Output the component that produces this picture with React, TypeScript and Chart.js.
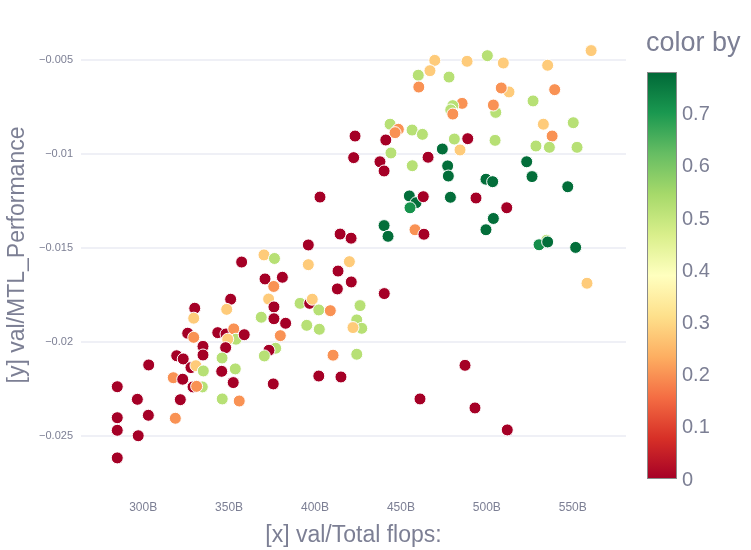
import React, { useEffect, useRef } from "react";
import { Chart, registerables } from "chart.js";

Chart.register(...registerables);

// ---------- data ----------
const xFlops: number[] = [
  534.8,
  284.9, 296.6, 303.0, 284.9, 284.9, 297.1, 284.9, 303.2, 319.5, 323.3,
  327.8, 330.7, 335.0, 317.5, 323.0, 329.0, 334.4, 331.1, 321.6, 318.7,
  330.0, 329.4, 325.9, 329.4, 334.8, 334.8, 350.9, 348.6, 343.4, 348.2,
  352.7, 354.0, 349.2, 358.8, 348.0, 345.9, 353.6, 345.7, 352.4, 346.0,
  355.9, 357.3, 370.3, 376.4, 370.9, 381.0, 376.0, 373.0, 376.1, 376.1,
  382.9, 368.7, 379.8, 377.1, 373.2, 370.5, 375.7, 391.3, 396.9, 398.4,
  402.2, 408.9, 395.2, 402.5, 426.2, 424.3, 427.2, 422.1, 410.5, 424.3,
  402.2, 415.1, 396.1, 420.0, 413.4, 413.0, 421.1, 396.1, 414.6, 421.0,
  402.9, 422.5, 423.3,
  560.7, 469.7, 466.9, 460.1, 460.4, 478.0, 488.5, 500.3, 509.6, 535.4,
  512.9, 508.4, 539.5, 526.9, 485.6, 480.2, 479.0, 480.2, 505.2, 503.8,
  550.3, 532.9, 538.0, 528.6, 536.4, 552.5, 443.7, 448.5, 446.6, 456.5,
  462.5, 441.2, 481.1, 488.9, 504.8, 484.4, 474.1, 444.2, 437.8, 440.2,
  456.6, 465.8, 477.2, 477.6, 499.5, 503.4, 523.2, 526.3, 547.1, 454.9,
  458.8, 455.3, 463.0, 478.8, 493.7, 511.6, 503.8, 499.5, 440.2, 442.5,
  458.2, 463.4, 530.4, 535.4, 551.7, 558.3, 440.3, 487.3, 461.1, 493.1,
  511.9,
];

const yPerf: number[] = [
  -0.0146,
  -0.0224, -0.02307, -0.02392, -0.02405, -0.02472, -0.02501, -0.02619, -0.02124, -0.02075, -0.02092,
  -0.02138, -0.02128, -0.02156, -0.02192, -0.022, -0.02241, -0.02241, -0.02238, -0.02309, -0.02408,
  -0.01822, -0.01875, -0.01955, -0.01977, -0.02025, -0.02071, -0.01774, -0.01828, -0.01952, -0.01959,
  -0.01932, -0.01987, -0.01987, -0.01963, -0.02032, -0.02087, -0.02145, -0.02158, -0.02218, -0.02305,
  -0.02316, -0.01576, -0.01538, -0.01557, -0.01666, -0.01657, -0.01706, -0.01773, -0.01815, -0.01878,
  -0.01902, -0.0187, -0.01968, -0.02035, -0.02046, -0.02076, -0.02225, -0.01796, -0.01796, -0.01774,
  -0.01831, -0.01835, -0.01913, -0.01934, -0.01808, -0.01884, -0.01929, -0.01925, -0.02072, -0.02067,
  -0.02183, -0.02188, -0.0159, -0.01574, -0.01624, -0.01719, -0.01682, -0.01485, -0.01427, -0.01449,
  -0.0123, -0.0102, -0.00905,
  -0.0045, -0.00502, -0.00557, -0.00581, -0.00644, -0.00591, -0.00507, -0.00477, -0.00516, -0.00528,
  -0.0067, -0.00649, -0.00658, -0.00718, -0.00731, -0.00743, -0.00766, -0.00788, -0.00779, -0.0074,
  -0.00834, -0.00842, -0.00905, -0.00958, -0.00965, -0.00965, -0.00842, -0.00869, -0.00887, -0.00873,
  -0.00896, -0.00926, -0.00921, -0.00919, -0.00928, -0.00979, -0.00974, -0.00995, -0.01042, -0.01091,
  -0.01063, -0.01018, -0.01064, -0.01118, -0.01135, -0.01148, -0.01042, -0.01121, -0.01175, -0.01224,
  -0.0126, -0.01287, -0.01228, -0.01231, -0.01235, -0.01287, -0.01344, -0.01404, -0.01382, -0.01439,
  -0.01404, -0.01428, -0.01484, -0.01469, -0.01498, -0.01689, -0.01744, -0.02126, -0.02305, -0.02353,
  -0.0247,
];

const colorBy: number[] = [
  0.52,
  0, 0, 0, 0, 0, 0, 0, 0, 0, 0,
  0, 0.28, 0.52, 0.2, 0, 0, 0.52, 0.2, 0, 0.2,
  0, 0.28, 0, 0.2, 0, 0, 0, 0.28, 0, 0,
  0.2, 0.52, 0.28, 0, 0, 0.52, 0.52, 0, 0, 0.52,
  0.2, 0, 0.28, 0.52, 0, 0, 0.2, 0.28, 0, 0,
  0, 0.52, 0.2, 0.52, 0, 0.52, 0, 0.52, 0, 0.28,
  0.52, 0.2, 0.52, 0.52, 0.52, 0.52, 0.52, 0.28, 0.2, 0.52,
  0, 0, 0.28, 0.28, 0, 0, 0, 0, 0, 0,
  0, 0, 0,
  0.28, 0.28, 0.28, 0.52, 0.2, 0.52, 0.28, 0.52, 0.28, 0.28,
  0.28, 0.2, 0.2, 0.52, 0.2, 0.52, 0.52, 0.2, 0.52, 0.2,
  0.52, 0.28, 0.2, 0.52, 0.52, 0.52, 0.52, 0.2, 0.2, 0.52,
  0.52, 0, 0.52, 0, 0.52, 0.28, 0.77, 0.52, 0, 0,
  0.52, 0, 0.77, 0.77, 0.77, 0.77, 0.77, 0.77, 0.77, 0.77,
  0.77, 0.71, 0, 0.77, 0, 0, 0.77, 0.77, 0.77, 0.77,
  0.2, 0, 0.72, 0.77, 0.77, 0.28, 0, 0, 0, 0,
  0,
];

const xTicks: number[] = [300, 350, 400, 450, 500, 550];
const yTicks: number[] = [-0.025, -0.02, -0.015, -0.01, -0.005];
const cbTicks: number[] = [0, 0.1, 0.2, 0.3, 0.4, 0.5, 0.6, 0.7];
const cMin = 0;
const cMax = 0.78;

// RdYlGn colorscale
const scalePos: number[] = [0, 0.1, 0.2, 0.3, 0.4, 0.5, 0.6, 0.7, 0.8, 0.9, 1];
const scaleRGB: number[][] = [
  [165, 0, 38], [215, 48, 39], [244, 109, 67], [253, 174, 97], [254, 224, 139],
  [255, 255, 191], [217, 239, 139], [166, 217, 106], [102, 189, 99], [26, 152, 80], [0, 104, 55],
];

function colorAt(t: number): string {
  const tt = Math.max(0, Math.min(1, t));
  for (let i = 0; i < scalePos.length - 1; i++) {
    if (tt <= scalePos[i + 1]) {
      const f = (tt - scalePos[i]) / (scalePos[i + 1] - scalePos[i]);
      const a = scaleRGB[i], b = scaleRGB[i + 1];
      const c = a.map((v, k) => Math.round(v + (b[k] - v) * f));
      return `rgb(${c[0]},${c[1]},${c[2]})`;
    }
  }
  const l = scaleRGB[scaleRGB.length - 1];
  return `rgb(${l[0]},${l[1]},${l[2]})`;
}

const FONT = "'Liberation Sans', Arial, Helvetica, sans-serif";
const TEXT = "#7c7f94";

const colorbarPlugin = {
  id: "colorbar",
  afterDraw(chart: any) {
    const ctx: CanvasRenderingContext2D = chart.ctx;
    const left = 647, width = 30, top = 72, bottom = 479;
    const h = bottom - top;
    ctx.save();
    const g = ctx.createLinearGradient(0, bottom, 0, top);
    scalePos.forEach((p, i) => {
      const c = scaleRGB[i];
      g.addColorStop(p, `rgb(${c[0]},${c[1]},${c[2]})`);
    });
    ctx.fillStyle = g;
    ctx.fillRect(left, top, width, h);
    ctx.strokeStyle = "#8a8a8a";
    ctx.lineWidth = 1;
    ctx.strokeRect(left + 0.5, top + 0.5, width - 1, h - 1);
    ctx.fillStyle = TEXT;
    ctx.font = `20px ${FONT}`;
    ctx.textAlign = "left";
    ctx.textBaseline = "middle";
    cbTicks.forEach((v) => {
      const y = bottom - ((v - cMin) / (cMax - cMin)) * h;
      ctx.fillText(String(v), 682, y + 1);
    });
    ctx.font = `27px ${FONT}`;
    ctx.textBaseline = "middle";
    ctx.fillText("color by", 646, 44);
    ctx.restore();
  },
};

export default function App() {
  const ref = useRef<HTMLCanvasElement | null>(null);

  useEffect(() => {
    document.body.style.margin = "0";
    if (!ref.current) return;
    const points = xFlops.map((x, i) => ({ x, y: yPerf[i] }));
    const colors = colorBy.map((c) => colorAt((c - cMin) / (cMax - cMin)));
    const chart = new Chart(ref.current, {
      type: "scatter",
      data: {
        datasets: [
          {
            data: points,
            backgroundColor: colors,
            borderColor: "#ffffff",
            borderWidth: 1,
            pointRadius: 6,
            pointHoverRadius: 6,
          },
        ],
      },
      options: {
        responsive: false,
        animation: false,
        devicePixelRatio: 1,
        events: [],
        layout: { padding: { top: 20, right: 125, left: 0, bottom: 0 } },
        plugins: { legend: { display: false }, tooltip: { enabled: false } },
        scales: {
          x: {
            type: "linear",
            min: 263.8,
            max: 581.0,
            afterFit: (s: any) => { s.height = 60; },
            afterBuildTicks: (s: any) => { s.ticks = xTicks.map((v) => ({ value: v })); },
            grid: { display: false, drawTicks: false },
            border: { display: false },
            ticks: {
              padding: 10,
              color: TEXT,
              font: { family: FONT, size: 12 },
              maxRotation: 0,
              callback: (v: any) => `${v}B`,
            },
            title: {
              display: true,
              text: "[x] val/Total flops:",
              color: TEXT,
              font: { family: FONT, size: 23 },
              padding: { bottom: 1, top: 0 },
            },
          },
          y: {
            type: "linear",
            min: -0.0279,
            max: -0.00287,
            afterFit: (s: any) => { s.width = 81; },
            afterBuildTicks: (s: any) => { s.ticks = yTicks.map((v) => ({ value: v })); },
            grid: { color: "#eff0f6", lineWidth: 2, drawTicks: false },
            border: { display: false },
            ticks: {
              padding: 8,
              color: TEXT,
              font: { family: FONT, size: 11 },
              callback: (v: any) => "\u2212" + Number(Math.abs(v).toFixed(3)).toString(),
            },
            title: {
              display: true,
              text: "[y] val/MTL_Performance",
              color: TEXT,
              font: { family: FONT, size: 23 },
              padding: { top: 4, bottom: 0 },
            },
          },
        },
      },
      plugins: [colorbarPlugin],
    });
    return () => chart.destroy();
  }, []);

  return (
    <div style={{ width: 751, height: 550, position: "relative" }}>
      <canvas ref={ref} width={751} height={550} />
    </div>
  );
}
